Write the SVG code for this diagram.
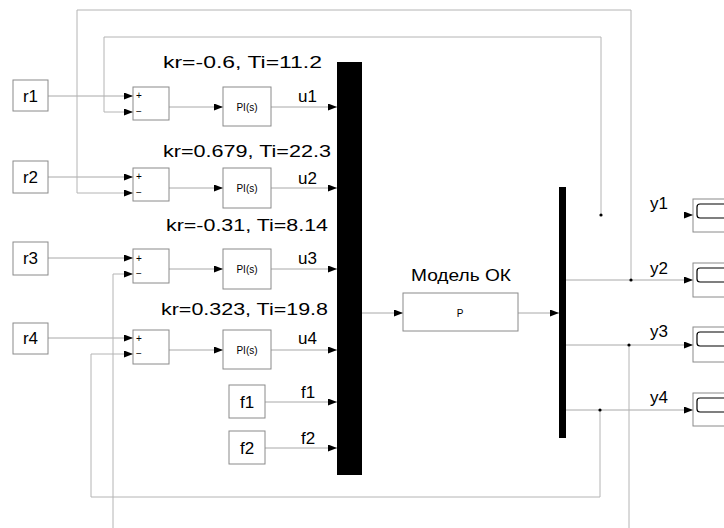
<svg xmlns="http://www.w3.org/2000/svg" width="724" height="528" viewBox="0 0 724 528">
<defs>
<marker id="ah" markerWidth="9" markerHeight="7" refX="9" refY="3.5" orient="auto" markerUnits="userSpaceOnUse">
<path d="M0,0 L9,3.5 L0,7 z" fill="#000"/>
</marker>
<style>
.blk{fill:#fff;stroke:#8a8a8a;stroke-width:1}
.ln{fill:none;stroke:#b4b4b4;stroke-width:1}
.sig{fill:none;stroke:#a8a8a8;stroke-width:1}
.t{font-family:"Liberation Sans",Arial,sans-serif;fill:#000}
.big{font-size:17px}
.lab{font-size:17px}
.sm{font-size:10px}
.pm{font-size:10px}
.bus{fill:#000}
.dot{fill:#000}
</style>
</defs>
<rect width="724" height="528" fill="#fff"/>
<g id="connectors">
<!-- r to sum + -->
<path class="sig" d="M48,96 H133" marker-end="url(#ah)"/>
<path class="sig" d="M48,177 H133" marker-end="url(#ah)"/>
<path class="sig" d="M48,258 H133" marker-end="url(#ah)"/>
<path class="sig" d="M48,338 H133" marker-end="url(#ah)"/>
<!-- sum to PI -->
<path class="sig" d="M169,107 H223" marker-end="url(#ah)"/>
<path class="sig" d="M169,188 H223" marker-end="url(#ah)"/>
<path class="sig" d="M169,269 H223" marker-end="url(#ah)"/>
<path class="sig" d="M169,350 H223" marker-end="url(#ah)"/>
<!-- PI to bus -->
<path class="sig" d="M271,107 H337" marker-end="url(#ah)"/>
<path class="sig" d="M271,188 H337" marker-end="url(#ah)"/>
<path class="sig" d="M271,269 H337" marker-end="url(#ah)"/>
<path class="sig" d="M271,350 H337" marker-end="url(#ah)"/>
<path class="sig" d="M265,402 H337" marker-end="url(#ah)"/>
<path class="sig" d="M265,448 H337" marker-end="url(#ah)"/>
<!-- bus to P, P to bus2 -->
<path class="sig" d="M362,313 H403" marker-end="url(#ah)"/>
<path class="sig" d="M518,313 H559" marker-end="url(#ah)"/>
<!-- outputs -->
<path class="sig" d="M685,215 H693" marker-end="url(#ah)"/>
<path class="sig" d="M566,280 H693" marker-end="url(#ah)"/>
<path class="sig" d="M566,345 H693" marker-end="url(#ah)"/>
<path class="sig" d="M566,410 H693" marker-end="url(#ah)"/>
<!-- feedback -->
<path class="ln" d="M601,215 V37 H104 V112 H133" marker-end="url(#ah)"/>
<path class="ln" d="M631,280 V10 H77 V193 H133" marker-end="url(#ah)"/>
<path class="ln" d="M629,345 V528"/>
<path class="ln" d="M113,528 V274 H133" marker-end="url(#ah)"/>
<path class="ln" d="M600,410 V497 H91 V354 H133" marker-end="url(#ah)"/>
<circle class="dot" cx="601" cy="215" r="1.6"/>
<circle class="dot" cx="631" cy="280" r="1.6"/>
<circle class="dot" cx="629" cy="345" r="1.6"/>
<circle class="dot" cx="600" cy="410" r="1.6"/>
</g>
<g id="r1"><rect class="blk" x="13" y="80" width="35" height="31"/><text class="t big" x="30.5" y="102" text-anchor="middle">r1</text></g>
<g id="r2"><rect class="blk" x="13" y="161" width="35" height="32"/><text class="t big" x="30.5" y="183" text-anchor="middle">r2</text></g>
<g id="r3"><rect class="blk" x="13" y="242" width="35" height="33"/><text class="t big" x="30.5" y="264" text-anchor="middle">r3</text></g>
<g id="r4"><rect class="blk" x="13" y="323" width="35" height="31"/><text class="t big" x="30.5" y="344" text-anchor="middle">r4</text></g>
<g id="sum1"><rect class="blk" x="133" y="87" width="36" height="33"/><text class="t pm" x="136" y="99">+</text><text class="t pm" x="136" y="115">−</text></g>
<g id="sum2"><rect class="blk" x="133" y="168" width="36" height="33"/><text class="t pm" x="136" y="180">+</text><text class="t pm" x="136" y="196">−</text></g>
<g id="sum3"><rect class="blk" x="133" y="249" width="36" height="34"/><text class="t pm" x="136" y="262">+</text><text class="t pm" x="136" y="277">−</text></g>
<g id="sum4"><rect class="blk" x="133" y="330" width="36" height="34"/><text class="t pm" x="136" y="342">+</text><text class="t pm" x="136" y="357">−</text></g>
<g id="pi1"><rect class="blk" x="223" y="87" width="48" height="39"/><text class="t sm" x="247" y="111" text-anchor="middle">PI(s)</text><text class="t lab" x="163" y="68" textLength="159" lengthAdjust="spacingAndGlyphs">kr=-0.6, Ti=11.2</text><text class="t lab" x="298" y="102">u1</text></g>
<g id="pi2"><rect class="blk" x="223" y="168" width="48" height="40"/><text class="t sm" x="247" y="192" text-anchor="middle">PI(s)</text><text class="t lab" x="163" y="157" textLength="168" lengthAdjust="spacingAndGlyphs">kr=0.679, Ti=22.3</text><text class="t lab" x="298" y="184">u2</text></g>
<g id="pi3"><rect class="blk" x="223" y="249" width="48" height="40"/><text class="t sm" x="247" y="273" text-anchor="middle">PI(s)</text><text class="t lab" x="166" y="231" textLength="162" lengthAdjust="spacingAndGlyphs">kr=-0.31, Ti=8.14</text><text class="t lab" x="298" y="264">u3</text></g>
<g id="pi4"><rect class="blk" x="223" y="330" width="48" height="39"/><text class="t sm" x="247" y="354" text-anchor="middle">PI(s)</text><text class="t lab" x="161" y="315" textLength="167" lengthAdjust="spacingAndGlyphs">kr=0.323, Ti=19.8</text><text class="t lab" x="298" y="344">u4</text></g>
<g id="f1"><rect class="blk" x="229" y="385" width="36" height="33"/><text class="t big" x="247" y="408" text-anchor="middle">f1</text><text class="t lab" x="301" y="398">f1</text></g>
<g id="f2"><rect class="blk" x="229" y="431" width="36" height="33"/><text class="t big" x="247" y="454" text-anchor="middle">f2</text><text class="t lab" x="301" y="444">f2</text></g>
<g id="mux1"><rect class="bus" x="337" y="62" width="25" height="413"/></g>
<g id="plant"><rect class="blk" x="403" y="293" width="115" height="38"/><text class="t sm" x="460" y="317" text-anchor="middle">P</text><text class="t lab" x="411" y="281" textLength="100" lengthAdjust="spacingAndGlyphs">Модель ОК</text></g>
<g id="mux2"><rect class="bus" x="559" y="187" width="7" height="251"/></g>
<g id="scope1"><rect class="blk" x="693" y="199" width="40" height="33"/><rect x="697" y="204" width="40" height="14" rx="3" fill="none" stroke="#000" stroke-width="1.2"/><text class="t lab" x="650" y="209">y1</text></g>
<g id="scope2"><rect class="blk" x="693" y="263" width="40" height="34"/><rect x="697" y="268" width="40" height="14" rx="3" fill="none" stroke="#000" stroke-width="1.2"/><text class="t lab" x="650" y="274">y2</text></g>
<g id="scope3"><rect class="blk" x="693" y="327" width="40" height="35"/><rect x="697" y="332" width="40" height="14" rx="3" fill="none" stroke="#000" stroke-width="1.2"/><text class="t lab" x="650" y="337">y3</text></g>
<g id="scope4"><rect class="blk" x="693" y="393" width="40" height="33"/><rect x="697" y="398" width="40" height="14" rx="3" fill="none" stroke="#000" stroke-width="1.2"/><text class="t lab" x="650" y="403">y4</text></g>
</svg>
